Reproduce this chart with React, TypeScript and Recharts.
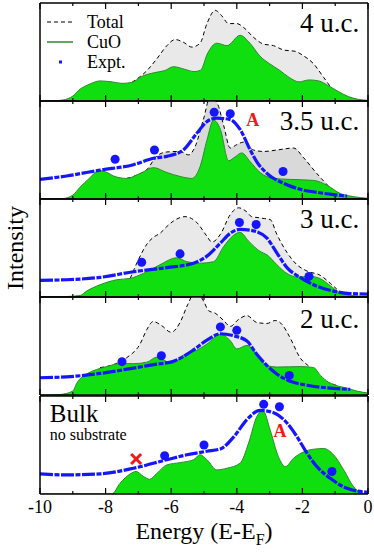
import React from "react";
import { Area, ComposedChart, Line, Scatter, XAxis, YAxis } from "recharts";

type Pt = [number, number];

const SERIF = "Liberation Serif";
const energyTicks = [-10, -9, -8, -7, -6, -5, -4, -3, -2, -1, 0];

// 4 u.c.
const cuo4: Pt[] = [
  [-10, 0], [-9.6, 0.2], [-9.3, 1], [-9.0, 5], [-8.78, 12], [-8.5, 17], [-8.17, 20.5],
  [-7.8, 19.5], [-7.5, 18], [-7.2, 19], [-6.9, 25], [-6.5, 29], [-6.2, 31], [-5.93, 35],
  [-5.6, 32.5], [-5.3, 30], [-5.1, 31.5], [-4.9, 48], [-4.61, 59], [-4.3, 56.5], [-3.9, 67],
  [-3.6, 59], [-3.3, 46], [-3.0, 38], [-2.7, 31.5], [-2.4, 24], [-2.1, 19.5], [-1.8, 21.5],
  [-1.5, 20.5], [-1.2, 15.4], [-0.9, 9.6], [-0.6, 4.5], [-0.3, 1.7], [0, 0.7],
];
const total4: Pt[] = [
  [-7.2, 19], [-6.74, 31], [-6.44, 43], [-6.13, 56.5], [-5.88, 62.7], [-5.63, 60],
  [-5.37, 55], [-5.12, 59], [-4.91, 79], [-4.66, 92.5], [-4.46, 87], [-4.25, 79], [-4.0, 79],
  [-3.79, 75], [-3.49, 65], [-3.18, 58], [-2.88, 56.5], [-2.57, 52], [-2.22, 50.7],
  [-1.96, 46], [-1.66, 38], [-1.35, 24], [-1.05, 11], [-0.74, 5], [-0.5, 3],
];

// 3.5 u.c.
const cuo35: Pt[] = [
  [-10, 0], [-9.3, 0.5], [-9.0, 4], [-8.78, 12], [-8.5, 21], [-8.2, 29], [-7.95, 27],
  [-7.76, 23.5], [-7.36, 21], [-6.95, 26], [-6.54, 32], [-6.13, 27], [-5.73, 23],
  [-5.37, 21], [-5.12, 33], [-4.91, 60], [-4.71, 80.5], [-4.5, 71], [-4.25, 39],
  [-4.05, 43], [-3.85, 47], [-3.59, 38], [-3.29, 27], [-2.88, 21], [-2.37, 20],
  [-1.66, 19], [-1.25, 14], [-0.84, 5.5], [-0.44, 2.4], [0, 0.7],
];
const total35: Pt[] = [
  [-7.36, 21], [-7.0, 25], [-6.74, 30], [-6.44, 43.8], [-6.13, 48], [-5.73, 48.5],
  [-5.47, 45], [-5.27, 53.5], [-5.02, 81], [-4.81, 104], [-4.6, 98], [-4.4, 75], [-4.2, 52],
  [-4.0, 55.5], [-3.8, 58], [-3.49, 50], [-3.18, 48.5], [-2.78, 50], [-2.27, 52],
  [-1.96, 42], [-1.56, 26], [-1.05, 9], [-0.74, 4], [-0.5, 2.5],
];
const expt35: Pt[] = [
  [-10, 20], [-9.19, 23.5], [-8.17, 29.5], [-7.15, 35], [-6.54, 41.6], [-6.13, 43.5],
  [-5.63, 50], [-5.22, 67], [-4.91, 79], [-4.6, 82.5], [-4.2, 81], [-3.9, 71], [-3.59, 50],
  [-3.39, 38], [-3.08, 26], [-2.57, 16], [-2.07, 9.9], [-1.56, 6.8], [-1.05, 4.4], [-0.64, 3],
];
const dots35: Pt[] = [[-7.71, 40.5], [-6.51, 50], [-4.69, 88.5], [-4.2, 87], [-2.59, 28]];

// 3 u.c.
const cuo3: Pt[] = [
  [-10, 0], [-9.2, 0.5], [-8.78, 1.5], [-8.58, 6], [-8.17, 12.5], [-7.66, 17.6],
  [-7.25, 19], [-6.85, 24], [-6.34, 33], [-5.83, 40], [-5.52, 36], [-5.12, 34.5],
  [-4.71, 36], [-4.4, 51.5], [-4.1, 63], [-3.9, 66], [-3.64, 57], [-3.29, 46.5],
  [-3.08, 43], [-2.78, 33], [-2.47, 24], [-2.17, 20.5], [-1.76, 21], [-1.45, 18.6],
  [-1.15, 11.5], [-0.84, 4], [-0.44, 1.4], [0, 0.5],
];
const total3: Pt[] = [
  [-7.25, 19], [-7.0, 38], [-6.74, 54], [-6.54, 61], [-6.34, 65], [-6.13, 72],
  [-5.93, 77.6], [-5.58, 82], [-5.22, 76], [-4.91, 62], [-4.76, 56], [-4.5, 64], [-4.2, 84],
  [-3.95, 91], [-3.7, 87], [-3.55, 82], [-3.35, 81], [-3.15, 80], [-2.98, 79], [-2.78, 64],
  [-2.47, 45.5], [-2.17, 33], [-1.86, 26.5], [-1.45, 22], [-1.15, 14], [-0.95, 8],
];
const expt3: Pt[] = [
  [-10, 17], [-9.19, 17.6], [-8.17, 20], [-7.15, 25.8], [-6.13, 30], [-5.32, 34.5],
  [-4.91, 41.7], [-4.5, 55], [-4.2, 65], [-3.9, 69], [-3.49, 67.5], [-3.08, 60],
  [-2.78, 45], [-2.47, 30], [-2.07, 20], [-1.56, 11], [-1.05, 6], [-0.54, 3.5], [0, 3],
];
const dots3: Pt[] = [[-6.9, 35.5], [-5.73, 44], [-3.92, 76], [-3.41, 74], [-1.8, 21]];

// 2 u.c.
const cuo2: Pt[] = [
  [-10, 0], [-9.4, 0.5], [-9.0, 4], [-8.88, 12], [-8.7, 19], [-8.58, 21.5], [-7.97, 29],
  [-7.56, 32], [-7.15, 32], [-6.74, 33.5], [-6.44, 38.6], [-6.24, 36], [-5.98, 32],
  [-5.63, 40.6], [-5.22, 45.6], [-4.91, 52], [-4.5, 62], [-4.2, 55.5], [-4.0, 47],
  [-3.69, 50.6], [-3.39, 42], [-3.08, 30], [-2.78, 28.5], [-2.07, 29], [-1.66, 28],
  [-1.45, 20], [-1.2, 13], [-1.0, 10], [-0.64, 7], [-0.34, 4], [0, 2],
];
const total2: Pt[] = [
  [-8.17, 28], [-7.76, 31], [-7.36, 38], [-6.95, 52], [-6.74, 67], [-6.55, 75], [-6.3, 71],
  [-6.0, 64], [-5.73, 74], [-5.5, 92], [-5.25, 106], [-5.0, 95], [-4.86, 86], [-4.66, 83.5],
  [-4.4, 76], [-4.2, 70], [-3.95, 77], [-3.69, 81], [-3.39, 74], [-3.08, 73], [-2.83, 76],
  [-2.62, 72], [-2.4, 60], [-2.07, 38], [-1.76, 28], [-1.45, 16], [-1.15, 12], [-0.9, 9],
];
const expt2: Pt[] = [
  [-10, 17.6], [-9.19, 18.5], [-8.17, 22], [-7.15, 27.5], [-6.54, 31], [-5.93, 34.5],
  [-5.32, 46], [-4.91, 56], [-4.5, 62.5], [-4.1, 60.5], [-3.69, 55], [-3.39, 41.6],
  [-3.08, 30], [-2.78, 21.5], [-2.37, 14], [-1.86, 10], [-1.05, 6.7], [-0.54, 5.7],
];
const dots2: Pt[] = [[-7.5, 34], [-6.3, 40], [-4.5, 69.5], [-4.0, 66], [-2.4, 20]];

// Bulk
const cuoBulk: Pt[] = [
  [-10, 0], [-7.81, 0], [-7.56, 11], [-7.25, 20.5], [-7.07, 23], [-6.85, 18], [-6.66, 15],
  [-6.44, 21], [-6.13, 29.7], [-5.73, 32], [-5.32, 35], [-5.12, 40], [-4.91, 35],
  [-4.61, 24.6], [-4.3, 26.3], [-3.9, 31.4], [-3.64, 52], [-3.39, 79], [-3.2, 85],
  [-2.98, 65], [-2.73, 38], [-2.52, 28], [-2.27, 36.5], [-1.96, 43], [-1.66, 45.7],
  [-1.35, 46.4], [-1.05, 40], [-0.74, 24.6], [-0.44, 7.5], [-0.23, 1.4], [0, 0],
];
const exptBulk: Pt[] = [
  [-10, 20.5], [-9.19, 19.5], [-8.17, 20.5], [-7.15, 26.3], [-6.13, 35], [-5.52, 40],
  [-4.91, 43.6], [-4.5, 46], [-4.1, 58], [-3.69, 76], [-3.29, 85.3], [-2.88, 83],
  [-2.47, 72.4], [-2.17, 58.7], [-1.86, 41.6], [-1.56, 28], [-1.15, 16], [-0.64, 5.8], [0, 1.7],
];
const dotsBulk: Pt[] = [[-6.2, 39], [-5.0, 50], [-3.18, 91.5], [-2.7, 89], [-1.1, 23]];
const crossBulk: Pt[] = [[-7.07, 35.7]];

const legendItems = [
  { name: "Total", kind: "dash" },
  { name: "CuO", kind: "line" },
  { name: "Expt.", kind: "square" },
];

type Note = {
  x: number;
  y: number;
  text: string;
  size: number;
  color?: string;
  bold?: boolean;
  anchor?: "start" | "middle" | "end";
};

const rows = (pts: Pt[]) => pts.map(([e, v]) => ({ e, v }));

const GREEN = "#0fdf0f";
const GREEN_EDGE = "#2c8a2c";
const BLUE = "#1515ff";

// plot frame shared by every panel (same numbers the charts get as margins)
const PLOT_LEFT = 40;
const PLOT_RIGHT = 368;
const PLOT_H = 98;
const ex = (e: number) => PLOT_LEFT + ((e + 10) / 10) * (PLOT_RIGHT - PLOT_LEFT);
const vy = (top: number, v: number) => top + PLOT_H * (1 - v / 100);

function T({ size, bold, children, ...rest }: any) {
  return (
    <text
      ref={(el: SVGTextElement | null) => {
        if (el) {
          el.style.setProperty("font-family", SERIF, "important");
          el.style.setProperty("font-weight", bold ? "bold" : "normal", "important");
        }
      }}
      fontFamily={SERIF}
      fontSize={size}
      fontWeight={bold ? "bold" : "normal"}
      {...rest}
    >
      {children}
    </text>
  );
}

function TickMark(props: any) {
  const { x, y, payload, up } = props;
  const major = payload.value % 2 === 0;
  const len = major ? 6 : 3;
  return <line x1={x} x2={x} y1={y} y2={up ? y - len : y + len} stroke="#000" strokeWidth={1.2} />;
}

function Cross(props: any) {
  const { cx, cy } = props;
  const s = 5;
  return (
    <g stroke="#ee1a1a" strokeWidth={3}>
      <line x1={cx - s} y1={cy - s} x2={cx + s} y2={cy + s} />
      <line x1={cx - s} y1={cy + s} x2={cx + s} y2={cy - s} />
    </g>
  );
}

type PanelProps = {
  top: number;
  cuo: Pt[];
  total?: Pt[];
  expt?: Pt[];
  dots?: Pt[];
  cross?: Pt[];
  greyFill?: string;
};

function Panel({ top, cuo, total, expt, dots, cross, greyFill }: PanelProps) {
  return (
    <div style={{ position: "absolute", left: 0, top: top - 1 }}>
      <ComposedChart
        width={374}
        height={PLOT_H + 2}
        margin={{ top: 0, right: 374 - PLOT_RIGHT - 1, bottom: 0, left: PLOT_LEFT - 1 }}
      >
        <XAxis
          xAxisId="top"
          orientation="top"
          dataKey="e"
          type="number"
          domain={[-10, 0]}
          allowDataOverflow
          ticks={energyTicks}
          interval={0}
          height={1}
          tickSize={0}
          tickMargin={0}
          tickLine={false}
          axisLine={{ stroke: "#000", strokeWidth: 1.5 }}
          tick={<TickMark up={false} />}
        />
        <XAxis
          dataKey="e"
          type="number"
          domain={[-10, 0]}
          allowDataOverflow
          ticks={energyTicks}
          interval={0}
          height={1}
          tickSize={0}
          tickMargin={0}
          tickLine={false}
          axisLine={{ stroke: "#000", strokeWidth: 1.5 }}
          tick={<TickMark up />}
        />
        <YAxis
          type="number"
          domain={[0, 100]}
          allowDataOverflow
          width={1}
          tick={false}
          tickLine={false}
          axisLine={{ stroke: "#000", strokeWidth: 1.5 }}
        />
        <YAxis
          yAxisId="r"
          orientation="right"
          type="number"
          domain={[0, 100]}
          width={1}
          tick={false}
          tickLine={false}
          axisLine={{ stroke: "#000", strokeWidth: 1.5 }}
        />
        {total && (
          <Area
            data={rows(total)}
            dataKey="v"
            type="monotone"
            fill={greyFill}
            fillOpacity={1}
            stroke="#000"
            strokeWidth={1}
            strokeDasharray="4 3"
            isAnimationActive={false}
          />
        )}
        <Area
          data={rows(cuo)}
          dataKey="v"
          type="monotone"
          fill={GREEN}
          fillOpacity={1}
          stroke={GREEN_EDGE}
          strokeWidth={1}
          isAnimationActive={false}
        />
        {expt && (
          <Line
            data={rows(expt)}
            dataKey="v"
            type="monotone"
            stroke={BLUE}
            strokeWidth={3.2}
            strokeDasharray="13 1.5 5 1.5"
            dot={false}
            isAnimationActive={false}
          />
        )}
        {dots && <Scatter data={rows(dots)} dataKey="v" fill={BLUE} isAnimationActive={false} />}
        {cross && <Scatter data={rows(cross)} dataKey="v" shape={<Cross />} isAnimationActive={false} />}
      </ComposedChart>
    </div>
  );
}

const panelTops = [3, 101, 199, 297, 396];
const panelNotes: Note[][] = [
  [{ x: -0.27, y: 70, text: "4 u.c.", size: 27 }],
  [
    { x: -0.27, y: 70, text: "3.5 u.c.", size: 27 },
    { x: -3.51, y: 74, text: "A", size: 18, color: "#ee1a1a", bold: true, anchor: "middle" },
  ],
  [{ x: -0.27, y: 70, text: "3 u.c.", size: 27 }],
  [{ x: -0.27, y: 68, text: "2 u.c.", size: 27 }],
  [
    { x: -9.7, y: 73.5, text: "Bulk", size: 25, anchor: "start" },
    { x: -9.7, y: 55, text: "no substrate", size: 16, anchor: "start" },
    { x: -2.68, y: 58, text: "A", size: 18, color: "#ee1a1a", bold: true, anchor: "middle" },
  ],
];

function TextLayer() {
  const bottom = panelTops[4] + PLOT_H;
  const midY = panelTops[2] + PLOT_H / 2;
  return (
    <svg
      width={374}
      height={552}
      style={{ position: "absolute", left: 0, top: 0, pointerEvents: "none", overflow: "visible" }}
    >
      <style>{`text, tspan { font-family: '${SERIF}', serif !important; }`}</style>
      {panelNotes.map((notes, p) =>
        notes.map((n, i) => (
          <T
            key={`${p}-${i}`}
            x={ex(n.x)}
            y={vy(panelTops[p], n.y)}
            size={n.size}
            bold={n.bold}
            textAnchor={n.anchor || "end"}
            fill={n.color || "#000"}
          >
            {n.text}
          </T>
        ))
      )}
      {energyTicks
        .filter((e) => e % 2 === 0)
        .map((e) => (
          <T key={e} x={ex(e)} y={bottom + 19} size={18} textAnchor="middle" fill="#000">
            {String(e)}
          </T>
        ))}
      <T x={(PLOT_LEFT + PLOT_RIGHT) / 2} y={bottom + 45} size={24} textAnchor="middle" fill="#000">
        Energy (E-E
        <tspan fontSize={16} dy={6}>F</tspan>
        <tspan dy={-6}>)</tspan>
      </T>
      <T x={23} y={midY} size={24} textAnchor="middle" fill="#000" transform={`rotate(-90 23 ${midY})`}>
        Intensity
      </T>
      {legendItems.map((it, i) => {
        const cy = 22 + i * 20;
        return (
          <g key={it.name}>
            {it.kind === "dash" && (
              <line x1={47} x2={73} y1={cy} y2={cy} stroke="#000" strokeWidth={1} strokeDasharray="4 3" />
            )}
            {it.kind === "line" && <line x1={47} x2={73} y1={cy} y2={cy} stroke={GREEN_EDGE} strokeWidth={1.5} />}
            {it.kind === "square" && <rect x={59} y={cy - 1.5} width={3} height={3} fill={BLUE} />}
            <T x={87} y={cy + 6} size={18} fill="#000">
              {it.name}
            </T>
          </g>
        );
      })}
    </svg>
  );
}

export default function App() {
  return (
    <div style={{ position: "absolute", left: 0, top: 0, width: 374, height: 552, background: "#fff" }}>
      <Panel top={panelTops[0]} cuo={cuo4} total={total4} greyFill="#e9e9e9" />
      <Panel top={panelTops[1]} cuo={cuo35} total={total35} expt={expt35} dots={dots35} greyFill="#d9d9d9" />
      <Panel top={panelTops[2]} cuo={cuo3} total={total3} expt={expt3} dots={dots3} greyFill="#e9e9e9" />
      <Panel top={panelTops[3]} cuo={cuo2} total={total2} expt={expt2} dots={dots2} greyFill="#e9e9e9" />
      <Panel top={panelTops[4]} cuo={cuoBulk} expt={exptBulk} dots={dotsBulk} cross={crossBulk} />
      <TextLayer />
    </div>
  );
}
